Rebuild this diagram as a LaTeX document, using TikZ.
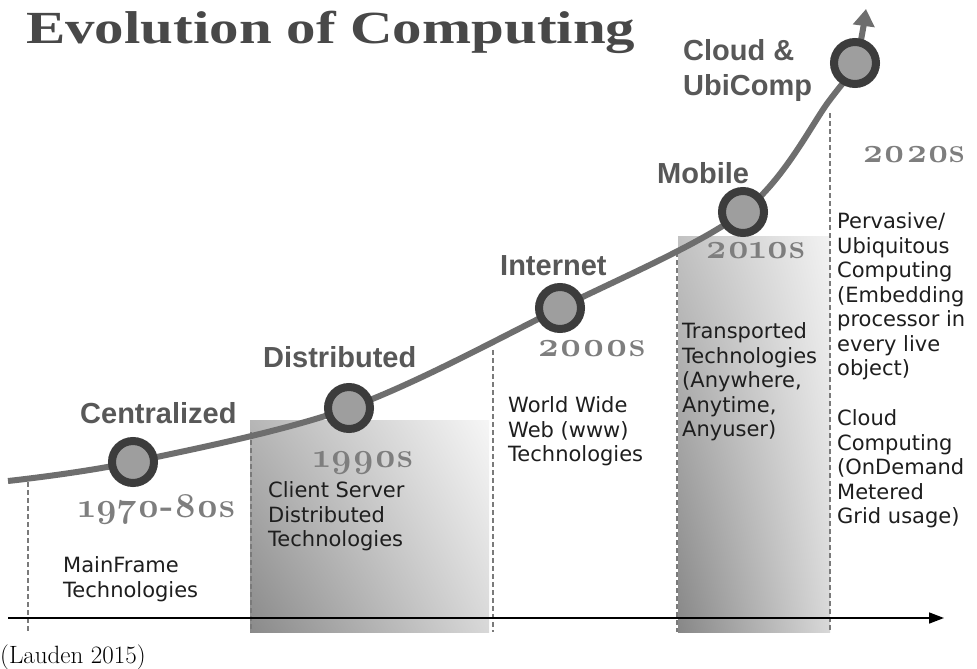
\documentclass[tikz,border=0pt]{standalone}
\usepackage{fontspec}
\usepackage{graphicx}
\usetikzlibrary{arrows.meta,shadings}
\newfontfamily\labfont{Liberation Sans}
\newfontfamily\descfont{DejaVu Sans}
\newfontfamily\titlefont{Liberation Serif}
\newfontfamily\yearfont{Latin Modern Roman}[Numbers=OldStyle]
\definecolor{labgray}{HTML}{585858}
\definecolor{yeargray}{HTML}{7E7E7E}
\definecolor{curvegray}{HTML}{6E6E6E}
\definecolor{ringgray}{HTML}{3C3C3C}
\definecolor{dotfill}{HTML}{9E9E9E}
\definecolor{titlegray}{HTML}{484848}
\definecolor{txtcol}{HTML}{1E1E1E}
\definecolor{dashgray}{HTML}{7A7A7A}
\definecolor{shA}{HTML}{8A8A8A}
\definecolor{shB}{HTML}{B6B6B6}
\definecolor{shC}{HTML}{D8D8D8}
\definecolor{shD}{HTML}{F6F6F6}
\definecolor{shE}{HTML}{878787}
\definecolor{shF}{HTML}{C2C2C2}
\definecolor{shG}{HTML}{D8D8D8}
\definecolor{shH}{HTML}{F2F2F2}
\newcommand\yrbox[2]{\resizebox{#1}{\height}{#2}}
\begin{document}
\begin{tikzpicture}[x=1pt,y=-1pt,
 era/.style={font=\labfont\bfseries\fontsize{29}{35}\selectfont, text=labgray, anchor=base west, inner sep=0},
 yearlab/.style={font=\yearfont\bfseries\fontsize{35}{36}\selectfont, text=yeargray, anchor=base west, inner sep=0},
 desc/.style={font=\descfont\fontsize{21}{24.5}\selectfont, text=txtcol, anchor=north west, inner sep=0, align=left},
 dot/.style={circle, draw=ringgray, line width=8pt, fill=dotfill, minimum size=42pt, inner sep=0},
 vdash/.style={draw=dashgray, line width=1.2pt, dash pattern=on 5pt off 3pt},
]
\useasboundingbox[fill=white] (0,0) rectangle (977,669);

% shaded era boxes
\shade[lower left=shA, upper left=shB, lower right=shC, upper right=shD]
  (250,420) rectangle (489,632);
\shade[lower left=shE, upper left=shF, lower right=shG, upper right=shH]
  (678,236) rectangle (830,632);

% dashed separators
\coordinate (d1t) at (28,482);  \coordinate (d1b) at (28,632);
\coordinate (d2t) at (251,432); \coordinate (d2b) at (251,632);
\coordinate (d3t) at (493,350); \coordinate (d3b) at (493,632);
\coordinate (d4t) at (677,252); \coordinate (d4b) at (677,632);
\coordinate (d5t) at (830,113); \coordinate (d5b) at (830,632);
\foreach \t/\b in {d1t/d1b,d2t/d2b,d3t/d3b,d4t/d4b,d5t/d5b} \draw[vdash] (\t) -- (\b);

% time axis
\coordinate (ax0) at (8,618);
\coordinate (ax1) at (944,618);
\draw[line width=1.6pt, -{Triangle[length=15pt,width=11pt]}] (ax0) -- (ax1);

% growth curve
\coordinate (k0) at (8,481);
\coordinate (p1) at (133,462);
\coordinate (p2) at (349,408);
\coordinate (p3) at (560,308);
\coordinate (p4) at (743,212);
\coordinate (k4) at (829,101);
\coordinate (p5) at (855,63);
\coordinate (tip) at (866,9);
\draw[curvegray, line width=6pt, -{Triangle[length=17pt,width=21pt]}]
  plot[smooth, tension=0.55] coordinates {(k0) (p1) (p2) (p3) (p4) (k4) (p5) (tip)};

\node[dot] (c1) at (p1) {};
\node[dot] (c2) at (p2) {};
\node[dot] (c3) at (p3) {};
\node[dot] (c4) at (p4) {};
\node[dot] (c5) at (p5) {};

% title and source
\node[anchor=base west, inner sep=0, text=titlegray, font=\titlefont\bfseries\fontsize{46}{48}\selectfont] (title) at (26,44)
  {\yrbox{609pt}{Evolution of Computing}};
\node[anchor=base west, inner sep=0, font=\fontsize{25}{28}\selectfont] (src) at (0,663) {(Lauden 2015)};

% era labels
\node[era] (l1) at (80,423) {Centralized};
\node[era] (l2) at (263,367) {Distributed};
\node[era] (l3) at (500,275) {Internet};
\node[era] (l4) at (657,183) {Mobile};
\node[era, anchor=north west, align=left] (l5) at (683,39) {Cloud \&\\UbiComp};

% year labels
\node[yearlab] (y1) at (78,517) {\yrbox{157pt}{1970-80s}};
\node[yearlab] (y2) at (313,467) {\yrbox{100pt}{1990s}};
\node[yearlab] (y3) at (537,356) {\yrbox{108pt}{2000s}};
\node[yearlab] (y4) at (705,258) {\yrbox{100pt}{2010s}};
\node[yearlab] (y5) at (862,162) {\yrbox{103pt}{2020s}};

% descriptions
\node[desc] (t1) at (63,556.5) {MainFrame\\Technologies};
\node[desc] (t2) at (268,481.5) {Client Server\\Distributed\\Technologies};
\node[desc] (t3) at (508,396.5) {World Wide\\Web (www)\\Technologies};
\node[desc] (t4) at (682,322.5) {Transported\\Technologies\\(Anywhere,\\Anytime,\\Anyuser)};
\node[desc] (t5) at (837,212.5) {Pervasive/\\Ubiquitous\\Computing\\(Embedding\\processor in\\every live\\object)};
\node[desc] (t6) at (837,409.5) {Cloud\\Computing\\(OnDemand\\Metered\\Grid usage)};
\end{tikzpicture}
\end{document}
